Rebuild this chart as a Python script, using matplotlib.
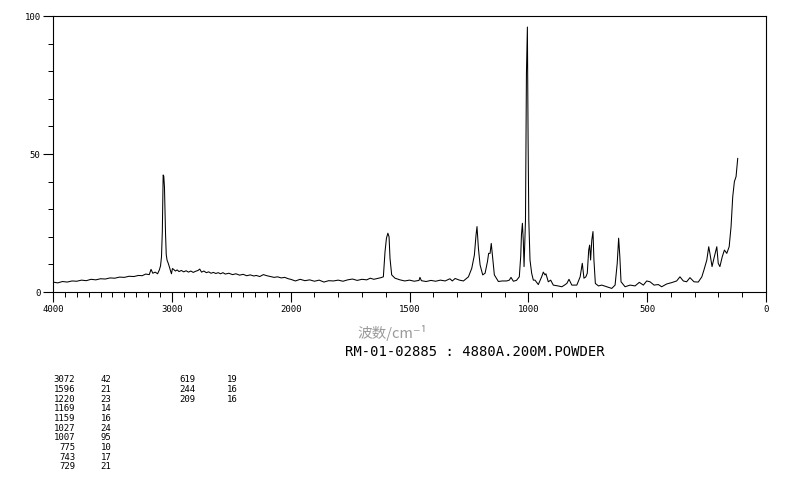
import numpy as np
import matplotlib
matplotlib.use("Agg")
import matplotlib.pyplot as plt
from matplotlib.ticker import FixedLocator, MultipleLocator

# 拉曼光谱 (波数 cm-1, 相对强度 %)
wavenumber = [
    4000, 3960, 3920, 3880, 3840, 3800, 3760, 3720, 3680, 3640, 3600, 3560,
    3520, 3480, 3440, 3400, 3360, 3320, 3280, 3250, 3220, 3190, 3175, 3160,
    3140, 3120, 3105, 3095, 3087, 3080, 3076, 3073, 3068, 3062, 3058, 3053,
    3047, 3040, 3031, 3020, 3010, 3003, 2995, 2985, 2970, 2955, 2940, 2920,
    2900, 2880, 2860, 2840, 2820, 2800, 2780, 2765, 2750, 2730, 2710, 2690,
    2670, 2650, 2630, 2610, 2590, 2570, 2550, 2520, 2490, 2460, 2430, 2400,
    2370, 2340, 2310, 2290, 2260, 2230, 2200, 2170, 2140, 2110, 2080, 2050,
    2020, 2000, 1980, 1960, 1940, 1920, 1900, 1880, 1860, 1840, 1820, 1800,
    1780, 1760, 1740, 1720, 1700, 1680, 1665, 1650, 1635, 1620, 1610, 1603,
    1597, 1591, 1586, 1582, 1575, 1561, 1540, 1520, 1500, 1480, 1460, 1456,
    1450, 1430, 1410, 1390, 1370, 1350, 1330, 1320, 1308, 1290, 1273, 1252,
    1238, 1227, 1220, 1216, 1210, 1203, 1192, 1182, 1172, 1167, 1161, 1156,
    1150, 1143, 1126, 1110, 1091, 1080, 1073, 1063, 1050, 1038, 1032, 1029,
    1025, 1021, 1018, 1012, 1008, 1004, 1001, 998, 993, 986, 979, 972,
    958, 944, 937, 930, 926, 916, 906, 895, 875, 859, 848, 838,
    829, 817, 796, 782, 773, 766, 758, 752, 746, 742, 738, 733,
    728, 724, 718, 705, 691, 670, 649, 635, 626, 620, 615, 610,
    593, 572, 551, 533, 516, 502, 488, 471, 453, 439, 418, 397,
    376, 362, 348, 334, 320, 303, 285, 270, 261, 249, 241, 236,
    227, 219, 207, 201, 194, 184, 175, 165, 155, 147, 140, 133,
    126, 123, 119,
]
intensity = [
    3.6, 3.3, 3.8, 3.6, 4.0, 3.9, 4.3, 4.1, 4.6, 4.4, 4.8, 4.7,
    5.1, 5.0, 5.4, 5.3, 5.7, 5.6, 6.0, 5.9, 6.5, 6.3, 8.2, 6.8,
    7.2, 6.6, 8.0, 9.5, 12.8, 22.0, 35.0, 42.4, 42.0, 38.0, 30.0, 21.0,
    13.5, 11.5, 10.5, 9.0, 7.5, 6.6, 8.5, 8.2, 7.6, 8.0, 7.4, 7.8,
    7.3, 7.7, 7.2, 7.6, 7.1, 7.5, 7.8, 8.3, 7.2, 7.6, 7.0, 7.3,
    6.8, 7.1, 6.7, 7.0, 6.6, 7.0, 6.5, 6.8, 6.3, 6.6, 6.1, 6.4,
    5.9, 6.2, 5.8, 6.0, 5.6, 6.3, 5.9, 5.6, 5.3, 5.5, 5.1, 5.3,
    4.8, 4.6, 4.0, 4.6, 4.1, 4.4, 3.9, 4.3, 3.6, 4.1, 4.0, 4.3,
    3.9, 4.4, 4.7, 4.2, 4.6, 4.4, 5.0, 4.6, 4.9, 5.2, 5.5, 14.6,
    19.5, 21.3, 20.0, 12.2, 6.2, 5.0, 4.4, 4.0, 4.3, 3.9, 4.2, 5.3,
    4.1, 3.8, 4.2, 3.9, 4.3, 4.0, 4.8, 4.0, 4.9, 4.3, 4.0, 5.5,
    8.6, 13.4, 20.7, 23.7, 15.8, 9.8, 6.2, 6.8, 11.0, 14.0, 14.0, 17.6,
    12.2, 6.2, 3.8, 4.0, 4.0, 4.3, 5.3, 3.9, 4.2, 5.5, 13.0, 20.7,
    24.9, 18.2, 9.2, 26.0, 79.0, 96.0, 55.0, 26.0, 11.6, 6.8, 4.3, 4.3,
    2.7, 5.5, 7.2, 6.2, 6.6, 3.7, 4.3, 2.5, 2.2, 1.9, 2.5, 3.1,
    4.6, 2.5, 2.5, 5.5, 10.4, 5.0, 5.5, 6.8, 15.2, 17.0, 11.6, 18.8,
    21.9, 11.6, 3.1, 2.2, 2.5, 1.9, 1.3, 2.5, 10.4, 19.5, 12.8, 3.7,
    1.9, 2.5, 2.2, 3.5, 2.5, 4.0, 3.7, 2.5, 2.7, 1.9, 2.9, 3.4,
    4.0, 5.5, 4.0, 3.7, 5.2, 3.7, 3.6, 5.5, 8.0, 11.6, 16.4, 14.0,
    9.2, 12.2, 16.4, 10.4, 9.2, 12.8, 15.2, 14.0, 16.4, 23.7, 34.5, 40.0,
    41.8, 44.8, 48.4,
]

# 峰表
peak_wn_1 = ["3072", "1596", "1220", "1169", "1159", "1027", "1007", "775", "743", "729"]
peak_int_1 = ["42", "21", "23", "14", "16", "24", "95", "10", "17", "21"]
peak_wn_2 = ["619", "244", "209"]
peak_int_2 = ["19", "16", "16"]

major_x = [4000, 3000, 2000, 1500, 1000, 500, 0]

MONO = "DejaVu Sans Mono"


def _fwd(w):
    # 2000 以上压缩一半
    w = np.asarray(w, dtype=float)
    return np.where(w > 2000, 2000 + (w - 2000) / 2.0, w)


def _inv(u):
    u = np.asarray(u, dtype=float)
    return np.where(u > 2000, 2000 + (u - 2000) * 2.0, u)


W, H = 794, 482
fig = plt.figure(figsize=(W / 100, H / 100), dpi=100)
ax = fig.add_axes([53 / W, 1 - 292 / H, (766 - 53) / W, (292 - 16) / H])

ax.plot(wavenumber, intensity, color="black", lw=0.75)

ax.set_xscale("function", functions=(_fwd, _inv))
ax.set_xlim(4000, 0)
ax.set_ylim(0, 100)

ax.xaxis.set_major_locator(FixedLocator(major_x))
ax.xaxis.set_minor_locator(MultipleLocator(100))
ax.set_xticklabels([str(v) for v in major_x])
ax.yaxis.set_major_locator(FixedLocator([0, 50, 100]))
ax.yaxis.set_minor_locator(MultipleLocator(10))

ax.tick_params(which="major", direction="out", length=7, width=0.8, pad=2,
               labelsize=6.5, colors="black")
ax.tick_params(which="minor", direction="out", length=3.5, width=0.7)
for lab in ax.get_xticklabels() + ax.get_yticklabels():
    lab.set_family(MONO)
for sp in ax.spines.values():
    sp.set_linewidth(0.8)

# 轴标题与样品信息
fig.text(392 / W, 1 - 333 / H, "波数/cm⁻¹", ha="center", va="center",
         fontsize=10.5, color="#9a9a9a",
         family=["Noto Sans CJK SC", "DejaVu Sans"])
fig.text(345 / W, 1 - 352 / H, "RM-01-02885 : 4880A.200M.POWDER",
         ha="left", va="center", fontsize=10, family=MONO, color="black")

# 峰表
y0, dy = 380, 9.65
for i, (wn, it) in enumerate(zip(peak_wn_1, peak_int_1)):
    y = 1 - (y0 + i * dy) / H
    fig.text(75 / W, y, wn, ha="right", va="center", fontsize=6.5, family=MONO)
    fig.text(100.5 / W, y, it, ha="left", va="center", fontsize=6.5, family=MONO)
for i, (wn, it) in enumerate(zip(peak_wn_2, peak_int_2)):
    y = 1 - (y0 + i * dy) / H
    fig.text(195 / W, y, wn, ha="right", va="center", fontsize=6.5, family=MONO)
    fig.text(226.5 / W, y, it, ha="left", va="center", fontsize=6.5, family=MONO)

fig.savefig("out.png", dpi=100)
